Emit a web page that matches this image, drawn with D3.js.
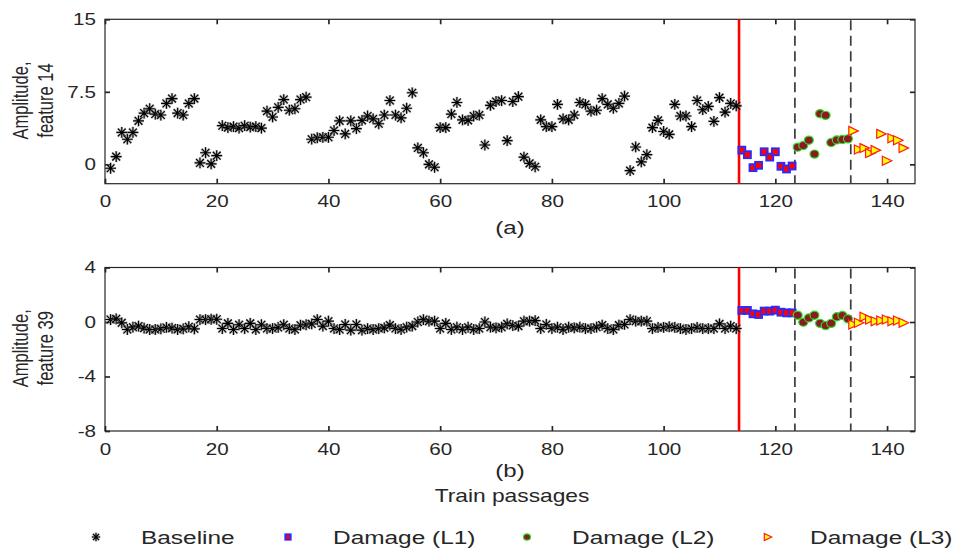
<!DOCTYPE html>
<html><head><meta charset="utf-8">
<script src="https://cdn.jsdelivr.net/npm/d3@7"></script>
<style>body{margin:0;background:#fff}svg{display:block}text{font-family:"Liberation Sans",Arial,sans-serif;fill:#262626}</style>
</head><body>
<svg id="c" width="960" height="550"></svg>
<script>
// ---------------- data ----------------
const xTicks = [0, 20, 40, 60, 80, 100, 120, 140];
const topYTicks = [0, 7.5, 15];
const topYTickLabels = ["0", "7.5", "15"];
const botYTicks = [-8, -4, 0, 4];
const botYTickLabels = ["-8", "-4", "0", "4"];
const seriesNames = ["Baseline", "Damage (L1)", "Damage (L2)", "Damage (L3)"];
const splitLines = [113.5, 123.5, 133.5];

// passages (x positions)
const baselinePassages = d3.range(1, 114);
const l1Passages = d3.range(114, 124);
const l2Passages = d3.range(124, 134);
const l3Passages = d3.range(134, 144);

// (a) feature 14
const baselineF14 = [-0.4,0.8,3.3,2.6,3.3,4.5,5.3,5.75,5.2,5.1,6.3,6.8,5.3,5.1,6.3,6.8,0.15,1.2,0.05,0.9,
 4.0,3.8,3.9,3.75,4.0,3.85,3.9,3.75,5.5,4.9,5.9,6.7,5.6,5.75,6.7,6.95,2.6,2.75,2.8,2.8,
 3.5,4.5,3.15,4.5,3.7,4.55,5.0,4.7,4.2,5.1,6.6,5.1,4.8,5.8,7.4,1.7,1.2,0.0,-0.3,3.8,
 3.8,5.2,6.4,4.6,4.55,5.0,5.1,2.0,6.1,6.5,6.6,2.45,6.5,7.0,0.75,0.1,-0.25,4.6,3.9,3.9,
 6.2,4.7,4.6,5.1,6.4,6.2,5.5,5.6,6.8,6.2,5.8,6.3,7.05,-0.65,1.8,0.25,1.0,3.8,4.55,3.4,
 3.1,6.2,5.0,5.0,3.9,6.6,5.65,6.0,4.45,6.9,5.4,6.3,6.05];
const l1F14 = [1.47,1.0,-0.34,-0.1,1.3,0.75,1.3,-0.2,-0.48,-0.17];
const l2F14 = [1.78,1.95,2.5,1.06,5.24,5.07,2.26,2.53,2.57,2.64];
const l3F14 = [3.46,1.54,1.68,1.16,1.47,3.15,0.38,2.7,2.5,1.68];

// (b) feature 39
const baselineF39 = [0.18,0.23,-0.06,-0.55,-0.38,-0.3,-0.45,-0.55,-0.55,-0.5,-0.4,-0.45,-0.55,-0.5,-0.35,-0.5,0.18,0.18,0.2,0.2,
 -0.48,-0.1,-0.55,-0.2,-0.48,-0.1,-0.55,-0.2,-0.48,-0.48,-0.4,-0.2,-0.48,-0.55,-0.24,-0.2,-0.14,0.18,-0.3,0.06,
 -0.48,-0.55,-0.18,-0.6,-0.18,-0.6,-0.48,-0.55,-0.48,-0.43,-0.23,-0.48,-0.55,-0.38,-0.3,0.0,0.18,0.06,0.06,-0.48,
 -0.1,-0.55,-0.38,-0.55,-0.38,-0.55,-0.48,0.0,-0.38,-0.43,-0.38,-0.14,-0.26,-0.3,0.06,0.06,0.1,-0.48,-0.18,-0.48,
 -0.38,-0.55,-0.38,-0.43,-0.38,-0.48,-0.48,-0.38,-0.23,-0.48,-0.55,-0.23,-0.18,0.18,0.06,0.06,0.06,-0.48,-0.4,-0.4,
 -0.35,-0.4,-0.48,-0.55,-0.48,-0.4,-0.48,-0.48,-0.48,-0.14,-0.48,-0.3,-0.48];
const l1F39 = [0.85,0.85,0.6,0.55,0.8,0.8,0.87,0.72,0.67,0.67];
const l2F39 = [0.5,-0.01,0.3,0.5,-0.1,-0.26,-0.1,0.38,0.48,0.23];
const l3F39 = [-0.18,-0.06,0.38,0.18,0.06,0.11,0.18,0.06,0.11,-0.06];

// ---------------- drawing ----------------
const svg = d3.select("#c");
const SX = 1.25; // horizontal stretch of the original text
const X0 = 105, X1 = 915;
const x = d3.scaleLinear().domain([0, 145]).range([X0, X1]);

function txt(g, px, py, s, size, anchor, rot, sx) {
  return g.append("text")
    .attr("transform", `translate(${px},${py}) scale(${sx||SX},1)` + (rot ? ` rotate(${rot})` : ""))
    .attr("text-anchor", anchor || "middle")
    .attr("font-size", size)
    .text(s);
}

const starPath = r => { const d = r * 0.72; return `M${-r},0L${r},0M0,${-r}L0,${r}M${-d},${-d}L${d},${d}M${-d},${d}L${d},${-d}`; };
const triPath = (w, h) => `M${-w/2},${-h/2}L${w/2},0L${-w/2},${h/2}Z`;

function drawMarker(g, type, px, py, small) {
  const k = small ? 0.78 : 1;
  if (type === 0) {
    g.append("path").attr("d", starPath(5.6*k)).attr("transform", `translate(${px},${py})`)
      .attr("stroke", "#8a8a8a").attr("stroke-width", 2.6).attr("stroke-opacity", 0.55).attr("fill", "none");
    g.append("path").attr("d", starPath(5.4*k)).attr("transform", `translate(${px},${py})`)
      .attr("stroke", "#000").attr("stroke-width", 1.15).attr("fill", "none");
  } else if (type === 1) {
    const s = 7 * k;
    g.append("rect").attr("x", px - s/2).attr("y", py - s/2).attr("width", s).attr("height", s)
      .attr("fill", "#ff0000").attr("stroke", "#2a2aff").attr("stroke-width", 1.8);
  } else if (type === 2) {
    g.append("ellipse").attr("cx", px).attr("cy", py).attr("rx", 4.5*k).attr("ry", 4.1*k)
      .attr("fill", "#8b1a22").attr("stroke", "#2ee02e").attr("stroke-width", 1.2);
  } else {
    g.append("path").attr("d", triPath(9.5*k, 9*k)).attr("transform", `translate(${px},${py})`)
      .attr("fill", "#ffff00").attr("stroke", "#ff1a1a").attr("stroke-width", 1.2).attr("stroke-linejoin", "miter");
  }
}

function panel(yTop, yBot, domain, yTicks, yLabels, titleLines, series, panelLabel, labelY) {
  const y = d3.scaleLinear().domain(domain).range([yBot, yTop]);
  const g = svg.append("g");
  // frame
  g.append("rect").attr("x", X0).attr("y", yTop).attr("width", X1 - X0).attr("height", yBot - yTop)
    .attr("fill", "none").attr("stroke", "#262626").attr("stroke-width", 1.2);
  // axes (ticks inward, mirrored)
  const ax = (gen, tr) => {
    const a = g.append("g").attr("transform", tr).call(gen);
    a.select(".domain").remove();
    a.selectAll("line").attr("stroke", "#262626").attr("stroke-width", 1.7);
    return a;
  };
  const bAx = ax(d3.axisBottom(x).tickValues(xTicks).tickSize(-5).tickPadding(12).tickFormat(d3.format("d")), `translate(0,${yBot})`);
  bAx.selectAll("text").attr("font-size", 16.5).attr("fill", "#262626").attr("font-family", '"Liberation Sans",Arial,sans-serif')
    .attr("transform", `scale(${SX},1)`);
  ax(d3.axisTop(x).tickValues(xTicks).tickSize(-5).tickFormat(""), `translate(0,${yTop})`);
  const lAx = ax(d3.axisLeft(y).tickValues(yTicks).tickSize(-5).tickPadding(9).tickFormat((d, i) => yLabels[i]), `translate(${X0},0)`);
  lAx.selectAll("text").attr("font-size", 16.5).attr("fill", "#262626").attr("font-family", '"Liberation Sans",Arial,sans-serif')
    .attr("x", -9 / SX).attr("transform", `scale(${SX},1)`);
  ax(d3.axisRight(y).tickValues(yTicks).tickSize(-5).tickFormat(""), `translate(${X1},0)`);

  // y title
  const cy = (yTop + yBot) / 2 - 1;
  txt(g, 28, cy, titleLines[0], 16.5, "middle", -90, 1.3);
  txt(g, 53, cy, titleLines[1], 16.5, "middle", -90, 1.3);

  // separators
  g.append("line").attr("x1", x(splitLines[0])).attr("x2", x(splitLines[0])).attr("y1", yTop).attr("y2", yBot)
    .attr("stroke", "#ff0000").attr("stroke-width", 2.6);
  [splitLines[1], splitLines[2]].forEach(v => {
    g.append("line").attr("x1", x(v)).attr("x2", x(v)).attr("y1", yTop + 1).attr("y2", yBot)
      .attr("stroke", "#3c3c3c").attr("stroke-width", 1.7).attr("stroke-dasharray", "10,5.5");
  });

  // points
  const pg = g.append("g");
  series.forEach((s, t) => {
    s.xs.forEach((xv, i) => drawMarker(pg, t, x(xv), y(s.ys[i])));
  });

  txt(g, 510, labelY, panelLabel, 18.5, "middle", 0, 1.3);
}

panel(19.3, 183.7, [-2, 15], topYTicks, topYTickLabels, ["Amplitude,", "feature 14"], [
  {xs: baselinePassages, ys: baselineF14},
  {xs: l1Passages, ys: l1F14},
  {xs: l2Passages, ys: l2F14},
  {xs: l3Passages, ys: l3F14}
], "(a)", 234);

panel(267.5, 431, [-8, 4], botYTicks, botYTickLabels, ["Amplitude,", "feature 39"], [
  {xs: baselinePassages, ys: baselineF39},
  {xs: l1Passages, ys: l1F39},
  {xs: l2Passages, ys: l2F39},
  {xs: l3Passages, ys: l3F39}
], "(b)", 477);

txt(svg, 512, 502, "Train passages", 18.5, "middle", 0, 1.23);

// legend
const lg = svg.append("g");
const legMarkX = [96, 288, 527, 768];
const legTextX = [141, 333, 572, 810];
seriesNames.forEach((n, i) => {
  drawMarker(lg, i, legMarkX[i], 537, true);
  txt(lg, legTextX[i], 544, n, 18.5, "start", 0, 1.32);
});
</script>
</body></html>
